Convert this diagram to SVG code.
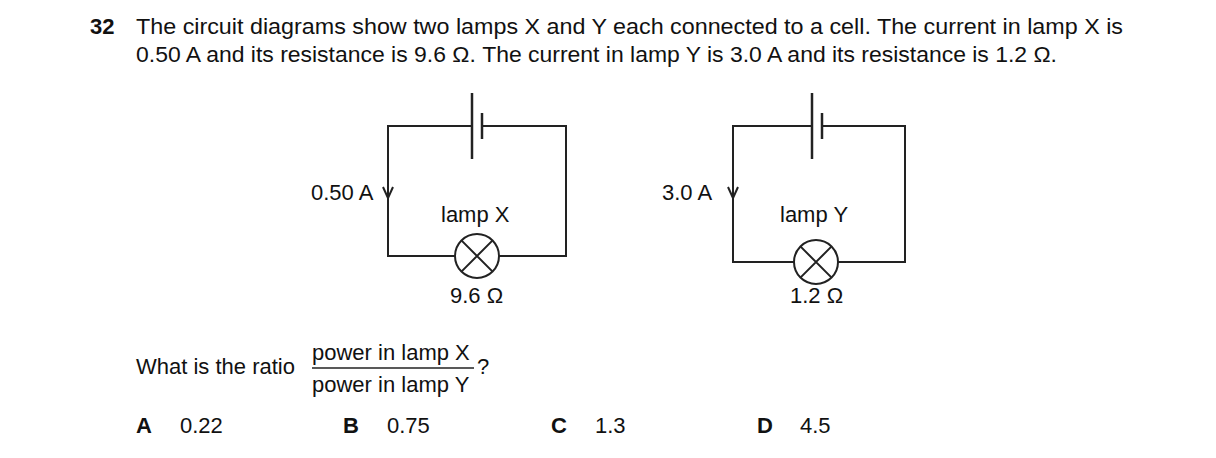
<svg xmlns="http://www.w3.org/2000/svg" width="1216" height="458" viewBox="0 0 1216 458">
<style>
text{font-family:"Liberation Sans",Arial,sans-serif;font-size:22px;fill:#111}
.w{fill:none;stroke:#222;stroke-width:2}
.p{stroke:#222;stroke-width:2.5}
</style>
<rect width="1216" height="458" fill="#fff"/>
<text x="90" y="34" font-weight="bold">32</text>
<text x="136" y="34" textLength="987" lengthAdjust="spacingAndGlyphs">The circuit diagrams show two lamps X and Y each connected to a cell. The current in lamp X is</text>
<text x="136" y="62" textLength="921" lengthAdjust="spacingAndGlyphs">0.50 A and its resistance is 9.6 Ω. The current in lamp Y is 3.0 A and its resistance is 1.2 Ω.</text>
<g id="circuitX">
<path class="w" d="M472 126H388V256H455M499 256H566V126H482"/>
<line class="p" x1="472" y1="93" x2="472" y2="159"/>
<line class="p" x1="482" y1="113" x2="482" y2="139"/>
<circle class="w" cx="477" cy="256" r="22"/>
<path class="w" d="M461.4 240.4L492.6 271.6M492.6 240.4L461.4 271.6"/>
<path class="w" d="M383 187L388 198L393 187"/>
<text x="311" y="200">0.50 A</text>
<text x="441" y="222">lamp X</text>
<text x="450" y="303">9.6 Ω</text>
</g>
<g id="circuitY">
<path class="w" d="M812 126H733V262H794M838 262H905V126H822"/>
<line class="p" x1="812" y1="93" x2="812" y2="159"/>
<line class="p" x1="822" y1="113" x2="822" y2="139"/>
<circle class="w" cx="816" cy="262" r="22"/>
<path class="w" d="M800.4 246.4L831.6 277.6M831.6 246.4L800.4 277.6"/>
<path class="w" d="M728 187L733 198L738 187"/>
<text x="662" y="200">3.0 A</text>
<text x="780" y="222">lamp Y</text>
<text x="790" y="303">1.2 Ω</text>
</g>
<text x="136" y="374">What is the ratio</text>
<text x="312" y="360">power in lamp X</text>
<line x1="312" y1="368" x2="474" y2="368" stroke="#222" stroke-width="1.5"/>
<text x="312" y="392">power in lamp Y</text>
<text x="477" y="374">?</text>
<text x="136" y="433" font-weight="bold">A</text><text x="180" y="433">0.22</text>
<text x="343" y="433" font-weight="bold">B</text><text x="387" y="433">0.75</text>
<text x="551" y="433" font-weight="bold">C</text><text x="595" y="433">1.3</text>
<text x="757" y="433" font-weight="bold">D</text><text x="800" y="433">4.5</text>
</svg>
